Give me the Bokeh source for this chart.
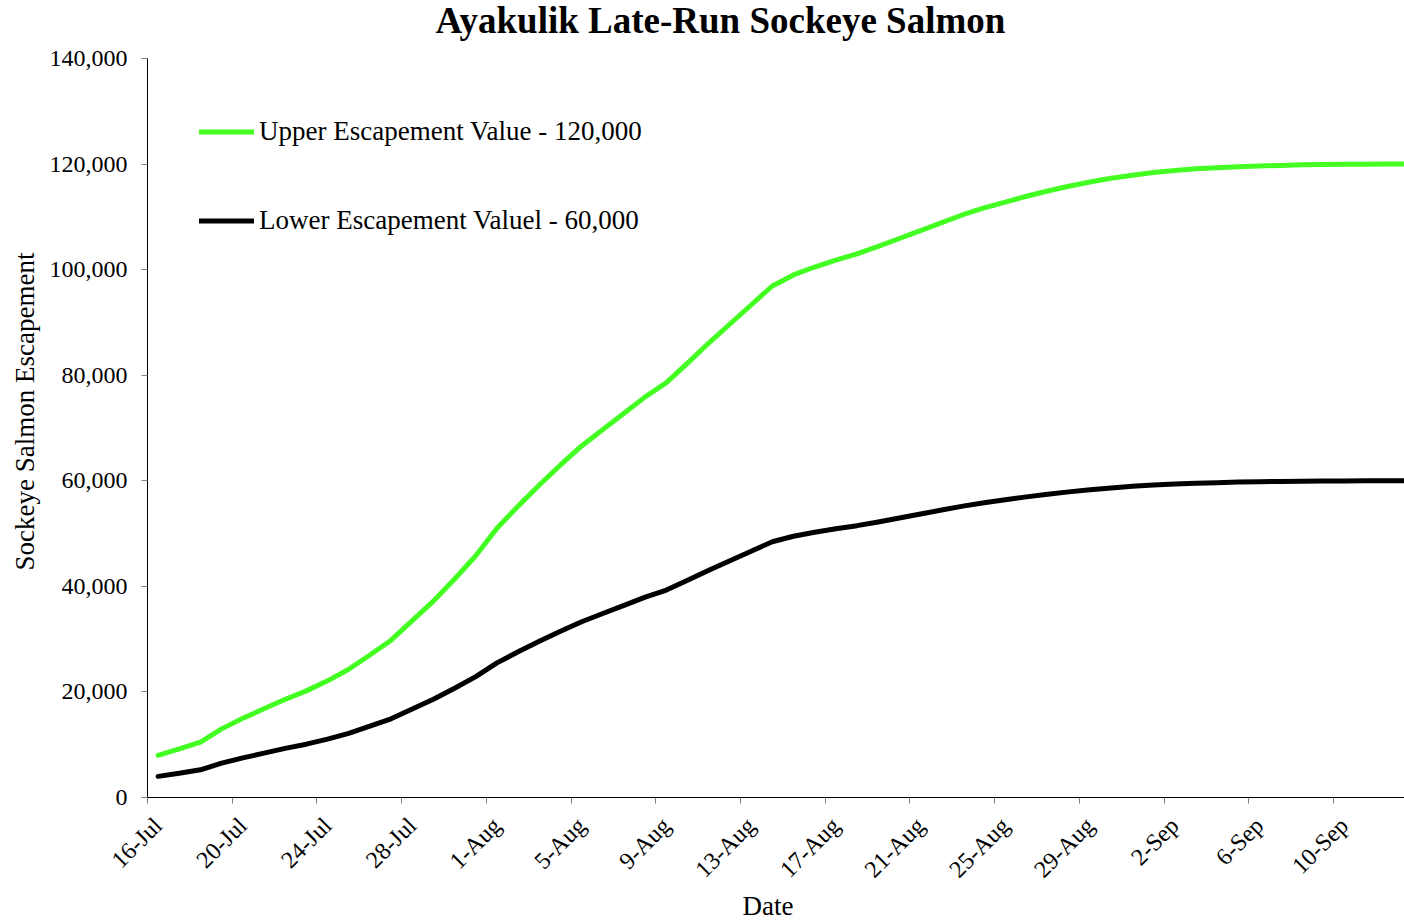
import math
from bokeh.plotting import figure
from bokeh.models import FixedTicker, NumeralTickFormatter, Legend, LegendItem, Range1d, LinearAxis, Title, Label
from bokeh.embed import file_html
from bokeh.resources import INLINE

# Day index 0 = 16-Jul ... 59 = 13-Sep
dates = ["16-Jul", "17-Jul", "18-Jul", "19-Jul", "20-Jul", "21-Jul", "22-Jul", "23-Jul", "24-Jul", "25-Jul",
         "26-Jul", "27-Jul", "28-Jul", "29-Jul", "30-Jul", "31-Jul", "1-Aug", "2-Aug", "3-Aug", "4-Aug",
         "5-Aug", "6-Aug", "7-Aug", "8-Aug", "9-Aug", "10-Aug", "11-Aug", "12-Aug", "13-Aug", "14-Aug",
         "15-Aug", "16-Aug", "17-Aug", "18-Aug", "19-Aug", "20-Aug", "21-Aug", "22-Aug", "23-Aug", "24-Aug",
         "25-Aug", "26-Aug", "27-Aug", "28-Aug", "29-Aug", "30-Aug", "31-Aug", "1-Sep", "2-Sep", "3-Sep",
         "4-Sep", "5-Sep", "6-Sep", "7-Sep", "8-Sep", "9-Sep", "10-Sep", "11-Sep", "12-Sep", "13-Sep"]

upper = [8000, 9200, 10500, 13000, 15000, 16800, 18600, 20200, 22100, 24300,
         27000, 29800, 33500, 37200, 41400, 45800, 51000, 55200, 59200, 63000,
         66600, 69700, 72800, 75900, 78600, 82300, 86100, 89700, 93300, 96900,
         99000, 100500, 101800, 103000, 104400, 105900, 107400, 108900, 110400, 111700,
         112800, 113900, 114900, 115800, 116600, 117300, 117900, 118400, 118800, 119100,
         119300, 119500, 119650, 119750, 119850, 119900, 119950, 119970, 119990, 120000]

lower = [4000, 4600, 5250, 6500, 7500, 8400, 9300, 10100, 11050, 12150,
         13500, 14900, 16750, 18600, 20700, 22900, 25500, 27600, 29600, 31500,
         33300, 34850, 36400, 37950, 39300, 41150, 43050, 44850, 46650, 48450,
         49500, 50250, 50900, 51500, 52200, 52950, 53700, 54450, 55200, 55850,
         56400, 56950, 57450, 57900, 58300, 58650, 58950, 59200, 59400, 59550,
         59650, 59750, 59825, 59875, 59925, 59950, 59975, 59985, 59995, 60000]

tick_days = list(range(0, 57, 4))
tick_labels = [dates[d] for d in tick_days]

y_ticks = [0, 20000, 40000, 60000, 80000, 100000, 120000, 140000]
Y_MAX = 140000

title_text = "Ayakulik Late-Run Sockeye Salmon"
x_title = "Date"
y_title = "Sockeye Salmon Escapement"
upper_label = "Upper Escapement Value - 120,000"
lower_label = "Lower Escapement Valuel - 60,000"

x = [i + 0.5 for i in range(len(dates))]

FONT = "Liberation Serif"
AXIS_H = 739          # pixel height of the 0..140,000 axis
FRAME_H = 797         # frame reaches the top of the canvas; the headroom holds the title

p = figure(frame_width=1257, frame_height=FRAME_H, output_backend="svg", toolbar_location=None,
           title=None,
           x_range=Range1d(0, 59.35), y_range=Range1d(0, Y_MAX * FRAME_H / AXIS_H),
           x_axis_location=None,
           min_border_left=147, min_border_right=0, min_border_top=0, min_border_bottom=124)

p.outline_line_color = None
p.xgrid.grid_line_color = None
p.ygrid.grid_line_color = None
p.background_fill_color = "white"
p.border_fill_color = "white"

gl = p.line(x, upper, line_color="#44ff22", line_width=5, line_cap="round", line_join="round")
bl = p.line(x, lower, line_color="black", line_width=5, line_cap="round", line_join="round")

# x axis 1: line and tick marks at the day boundaries, no labels
xa = LinearAxis(ticker=FixedTicker(ticks=tick_days),
                major_label_overrides={d: "" for d in tick_days})
xa.major_label_text_font_size = "0px"
xa.major_label_standoff = 0
# x axis 2: rotated date labels, no line, no ticks
xb = LinearAxis(ticker=FixedTicker(ticks=[d + 0.5 for d in tick_days]),
                major_label_overrides={d + 0.5: lab for d, lab in zip(tick_days, tick_labels)})
xb.axis_line_color = None
xb.major_tick_line_color = None
xb.major_tick_out = 0
xb.major_tick_in = 0
xb.major_label_orientation = math.pi / 4
xb.major_label_standoff = 18
p.add_layout(xa, "below")
p.add_layout(xb, "below")

for ax in (xa, xb, p.yaxis[0]):
    if ax is not xb:
        ax.axis_line_color = "black"
        ax.axis_line_width = 1
        ax.major_tick_line_color = "#7f7f7f"
        ax.major_tick_in = 0
        ax.major_tick_out = 6
    ax.minor_tick_line_color = None
    ax.major_label_text_font = FONT
    if ax is not xa:
        ax.major_label_text_font_size = "24px"
    ax.major_label_text_color = "black"

p.yaxis[0].ticker = FixedTicker(ticks=y_ticks)
p.yaxis[0].bounds = (0, Y_MAX)
p.yaxis[0].formatter = NumeralTickFormatter(format="0,0")
p.yaxis[0].major_label_standoff = 14

# chart title inside the headroom of the frame (screen units from the frame's bottom-left)
p.add_layout(Label(x=288, y=FRAME_H - 20, x_units="screen", y_units="screen", text=title_text,
                   text_font=FONT, text_font_size="37px", text_font_style="bold", text_color="black",
                   text_align="left", text_baseline="alphabetic"))

# axis titles as side titles so they can be shifted along the axes
p.add_layout(Title(text=y_title, text_font=FONT, text_font_size="27px", text_font_style="normal",
                   text_color="black", align="left", offset=227, standoff=14), "left")
p.add_layout(Title(text=x_title, text_font=FONT, text_font_size="27px", text_font_style="normal",
                   text_color="black", align="left", offset=595, standoff=-12), "below")

legend = Legend(items=[LegendItem(label=upper_label, renderers=[gl]),
                       LegendItem(label=lower_label, renderers=[bl])],
                location=(52, 561), orientation="vertical")
legend.border_line_color = None
legend.background_fill_alpha = 0
legend.padding = 0
legend.margin = 0
legend.glyph_width = 55
legend.glyph_height = 31
legend.label_height = 31
legend.spacing = 58
legend.label_standoff = 5
legend.label_text_font = FONT
legend.label_text_font_size = "27px"
legend.label_text_color = "black"
p.add_layout(legend)

open("out.html", "w").write(file_html(p, INLINE))
